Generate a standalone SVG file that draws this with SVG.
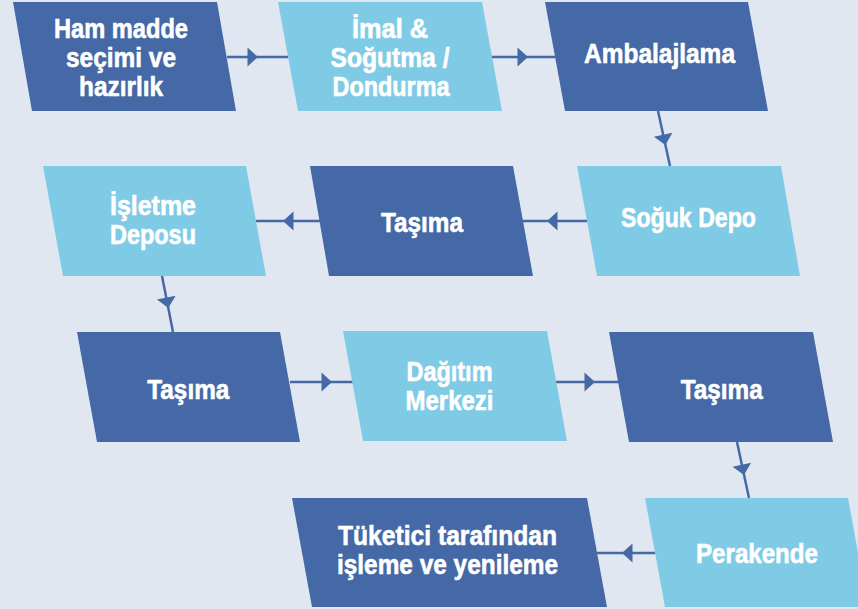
<svg xmlns="http://www.w3.org/2000/svg" xmlns:xlink="http://www.w3.org/1999/xlink" width="858" height="609" viewBox="0 0 858 609">
<defs>
<style>
.dark{fill:#4469a6}
.light{fill:#7fcbe6}
.lbl{fill:#ffffff;stroke:#ffffff;stroke-width:0.6px;font-family:"Liberation Sans Narrow","Liberation Sans",Arial,sans-serif;font-weight:bold;font-size:28px;text-anchor:middle}
.conn line{stroke:#4469a6;stroke-width:2.5;fill:none}
.ah{fill:#4469a6}
</style>
<path id="ah" class="ah" d="M0,0 L-10.5,-9.5 L-10.5,9.5 Z"/>
</defs>
<rect x="0" y="0" width="858" height="609" fill="#e1e7f1"/>

<g id="connectors" class="conn">
<line x1="227" y1="57" x2="288" y2="57"/>
<use xlink:href="#ah" transform="translate(258,57)"/>
<line x1="492" y1="57" x2="555" y2="57"/>
<use xlink:href="#ah" transform="translate(528,57)"/>
<line x1="658" y1="111" x2="670" y2="166"/>
<use xlink:href="#ah" transform="translate(665.4,145) rotate(77.7)"/>
<line x1="587" y1="221" x2="523" y2="221"/>
<use xlink:href="#ah" transform="translate(547,221) rotate(180)"/>
<line x1="320" y1="221" x2="256" y2="221"/>
<use xlink:href="#ah" transform="translate(283,221) rotate(180)"/>
<line x1="162" y1="276" x2="173" y2="332"/>
<use xlink:href="#ah" transform="translate(168.3,308) rotate(78.9)"/>
<line x1="290" y1="382" x2="353" y2="382"/>
<use xlink:href="#ah" transform="translate(332,382)"/>
<line x1="556" y1="382" x2="619" y2="382"/>
<use xlink:href="#ah" transform="translate(595,382)"/>
<line x1="737" y1="442" x2="749" y2="498"/>
<use xlink:href="#ah" transform="translate(744,475) rotate(77.9)"/>
<line x1="655" y1="553" x2="597" y2="553"/>
<use xlink:href="#ah" transform="translate(622,553) rotate(180)"/>
</g>

<g id="n1">
<polygon class="dark" points="13,2 217,2 236,111 32,111"/>
<text class="lbl" x="121" y="37.5" textLength="134" lengthAdjust="spacingAndGlyphs">Ham madde</text>
<text class="lbl" x="121" y="66.5" textLength="110" lengthAdjust="spacingAndGlyphs">seçimi ve</text>
<text class="lbl" x="121" y="95.5" textLength="84" lengthAdjust="spacingAndGlyphs">hazırlık</text>
</g>
<g id="n2">
<polygon class="light" points="278,2 482,2 502,111 298,111"/>
<text class="lbl" x="390" y="37.5" textLength="76" lengthAdjust="spacingAndGlyphs">İmal &amp;</text>
<text class="lbl" x="390" y="66.5" textLength="119" lengthAdjust="spacingAndGlyphs">Soğutma /</text>
<text class="lbl" x="391" y="95.5" textLength="117" lengthAdjust="spacingAndGlyphs">Dondurma</text>
</g>
<g id="n3">
<polygon class="dark" points="545,2 748,2 768,111 565,111"/>
<text class="lbl" x="659.5" y="63" textLength="151" lengthAdjust="spacingAndGlyphs">Ambalajlama</text>
</g>
<g id="n4">
<polygon class="light" points="577,166 781,166 800,276 597,276"/>
<text class="lbl" x="688.5" y="227" textLength="135" lengthAdjust="spacingAndGlyphs">Soğuk Depo</text>
</g>
<g id="n5">
<polygon class="dark" points="310,166 513,166 533,276 329,276"/>
<text class="lbl" x="422" y="232" textLength="82" lengthAdjust="spacingAndGlyphs">Taşıma</text>
</g>
<g id="n6">
<polygon class="light" points="43,166 246,166 266,276 63,276"/>
<text class="lbl" x="153" y="215" textLength="86" lengthAdjust="spacingAndGlyphs">İşletme</text>
<text class="lbl" x="153" y="243.5" textLength="86" lengthAdjust="spacingAndGlyphs">Deposu</text>
</g>
<g id="n7">
<polygon class="dark" points="77,332 280,332 300,442 97,442"/>
<text class="lbl" x="188.3" y="398.5" textLength="82" lengthAdjust="spacingAndGlyphs">Taşıma</text>
</g>
<g id="n8">
<polygon class="light" points="343,331 547,331 567,441 363,441"/>
<text class="lbl" x="449.5" y="381" textLength="86" lengthAdjust="spacingAndGlyphs">Dağıtım</text>
<text class="lbl" x="449.5" y="410" textLength="88" lengthAdjust="spacingAndGlyphs">Merkezi</text>
</g>
<g id="n9">
<polygon class="dark" points="609,332 813,332 833,442 629,442"/>
<text class="lbl" x="721.7" y="399" textLength="82" lengthAdjust="spacingAndGlyphs">Taşıma</text>
</g>
<g id="n10">
<polygon class="dark" points="292,498 587,498 607,607 312,607"/>
<text class="lbl" x="447.5" y="545" textLength="219" lengthAdjust="spacingAndGlyphs">Tüketici tarafından</text>
<text class="lbl" x="447.5" y="573.5" textLength="221" lengthAdjust="spacingAndGlyphs">işleme ve yenileme</text>
</g>
<g id="n11">
<polygon class="light" points="645,498 848,498 868,607 665,607"/>
<text class="lbl" x="757" y="563" textLength="122" lengthAdjust="spacingAndGlyphs">Perakende</text>
</g>
</svg>
